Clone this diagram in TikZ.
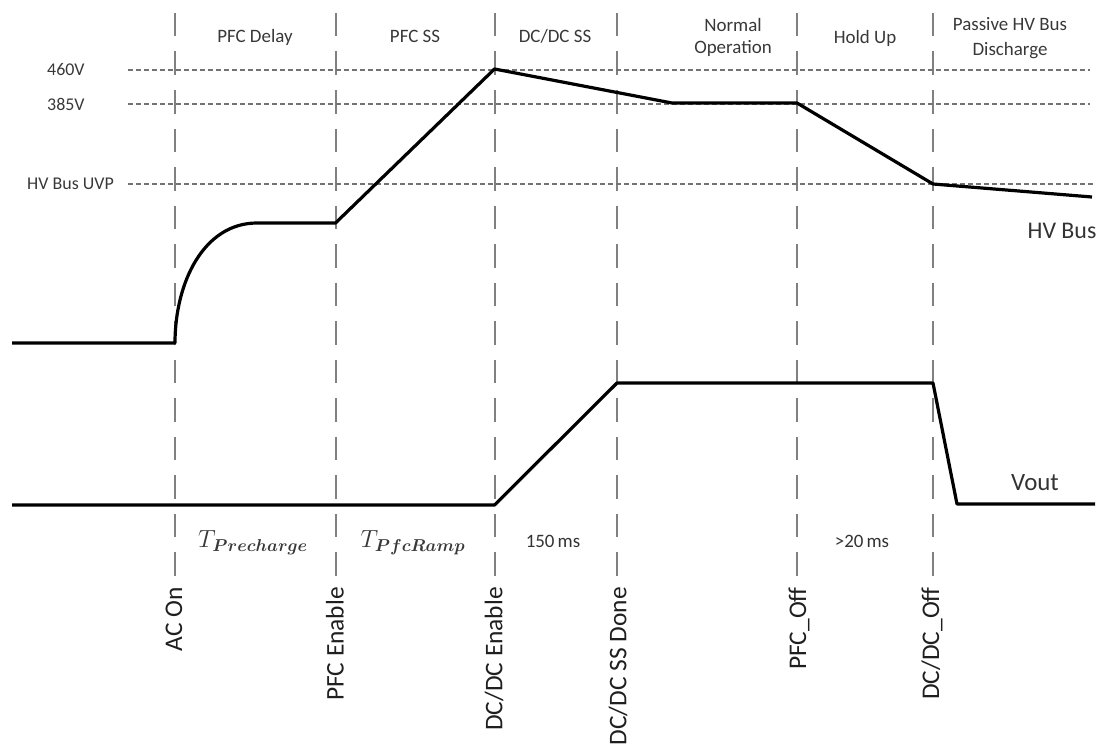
\documentclass[tikz,border=0pt]{standalone}
\usepackage{fontspec}
\setmainfont{Carlito}
\usepackage{bm}
\begin{document}
\begin{tikzpicture}[x=1bp,y=-1bp,
  wave/.style={line width=3.2bp, black, line join=round},
  vline/.style={line width=2bp, black!50, dash pattern=on 23.5bp off 15bp},
  hline/.style={line width=1.6bp, black!55, dash pattern=on 5bp off 3bp},
  toplbl/.style={font=\fontsize{19}{22}\selectfont, text=black!78, align=center, inner sep=0pt},
  evlbl/.style={font=\fontsize{25.5}{30}\selectfont, rotate=90, anchor=east, text=black!88, inner sep=0pt},
  lvl/.style={font=\fontsize{18}{20}\selectfont, text=black!78, anchor=west, inner sep=0pt},
  durlbl/.style={font=\fontsize{19}{22}\selectfont, text=black!80, inner sep=0pt},
  mathlbl/.style={font=\fontsize{26}{30}\selectfont, text=black!78, inner sep=0pt},
  siglbl/.style={font=\fontsize{25}{30}\selectfont, text=black!80, inner sep=0pt}]
\useasboundingbox (0,0) rectangle (1104,751);

% event times
\coordinate (tAC) at (174.5,0);
\coordinate (tPFC) at (335.5,0);
\coordinate (tDC) at (494.5,0);
\coordinate (tSS) at (617,0);
\coordinate (tPOff) at (797,0);
\coordinate (tDOff) at (933,0);

% vertical dashed event lines
\foreach \t in {tAC,tPFC,tDC,tSS,tPOff,tDOff}{
  \draw[vline] (\t |- 0,13) -- (\t |- 0,576);
}

% horizontal level lines
\coordinate (l460a) at (128,70);   \coordinate (l460b) at (1090,70);
\coordinate (l385a) at (128,104);  \coordinate (l385b) at (1090,104);
\coordinate (luvpa) at (128,184);  \coordinate (luvpb) at (1095,184);
\draw[hline] (l460a) -- (l460b);
\draw[hline] (l385a) -- (l385b);
\draw[hline] (luvpa) -- (luvpb);

% level labels
\node[lvl] (v460) at (47,70) {460V};
\node[lvl] (v385) at (47,104) {385V};
\node[lvl] (vuvp) at (27,184) {HV Bus UVP};

% phase labels
\node[toplbl, anchor=base] (pdelay) at (255,43) {PFC Delay};
\node[toplbl, anchor=base] (pss) at (415,43) {PFC SS};
\node[toplbl, anchor=base] (dcss) at (555,43) {DC/DC SS};
\node[toplbl, anchor=base] (norm1) at (733,32) {Normal};
\node[toplbl, anchor=base] (norm2) at (733,54) {Operation};
\node[toplbl, anchor=base] (hold) at (865,44) {Hold Up};
\node[toplbl, anchor=base] (pas1) at (1010,31) {Passive HV Bus};
\node[toplbl, anchor=base] (pas2) at (1010,56) {Discharge};

% HV bus waveform
\draw[wave] (12,343) -- (175,343)
  .. controls (175,282) and (204,223) .. (257,223)
  -- (335.5,223) -- (494.5,69) -- (672,103) -- (797,103)
  -- (933,184) -- (1092,197);
\node[siglbl, font=\fontsize{24}{28}\selectfont] (hvbus) at (1062,231) {HV Bus};

% Vout waveform
\draw[wave] (12,505) -- (494.5,505) -- (617,383) -- (933,383)
  -- (957,504) -- (1095,504);
\node[siglbl] (vout) at (1035,483) {Vout};

% interval labels
\node[mathlbl] (tpre) at (253,543) {$T_{\bm{Precharge}}$};
\node[mathlbl] (tramp) at (413,543) {$T_{\bm{PfcRamp}}$};
\node[durlbl] (d150) at (553,541) {150\,ms};
\node[durlbl] (d20) at (862,541) {>20\,ms};

% event labels
\node[evlbl] (eac) at (174,587) {AC On};
\node[evlbl] (epfc) at (335,587) {PFC Enable};
\node[evlbl] (edc) at (494,587) {DC/DC Enable};
\node[evlbl] (ess) at (618,587) {DC/DC SS Done};
\node[evlbl] (epoff) at (799,587) {PFC\_Off};
\node[evlbl] (edoff) at (932,587) {DC/DC\_Off};
\end{tikzpicture}
\end{document}
